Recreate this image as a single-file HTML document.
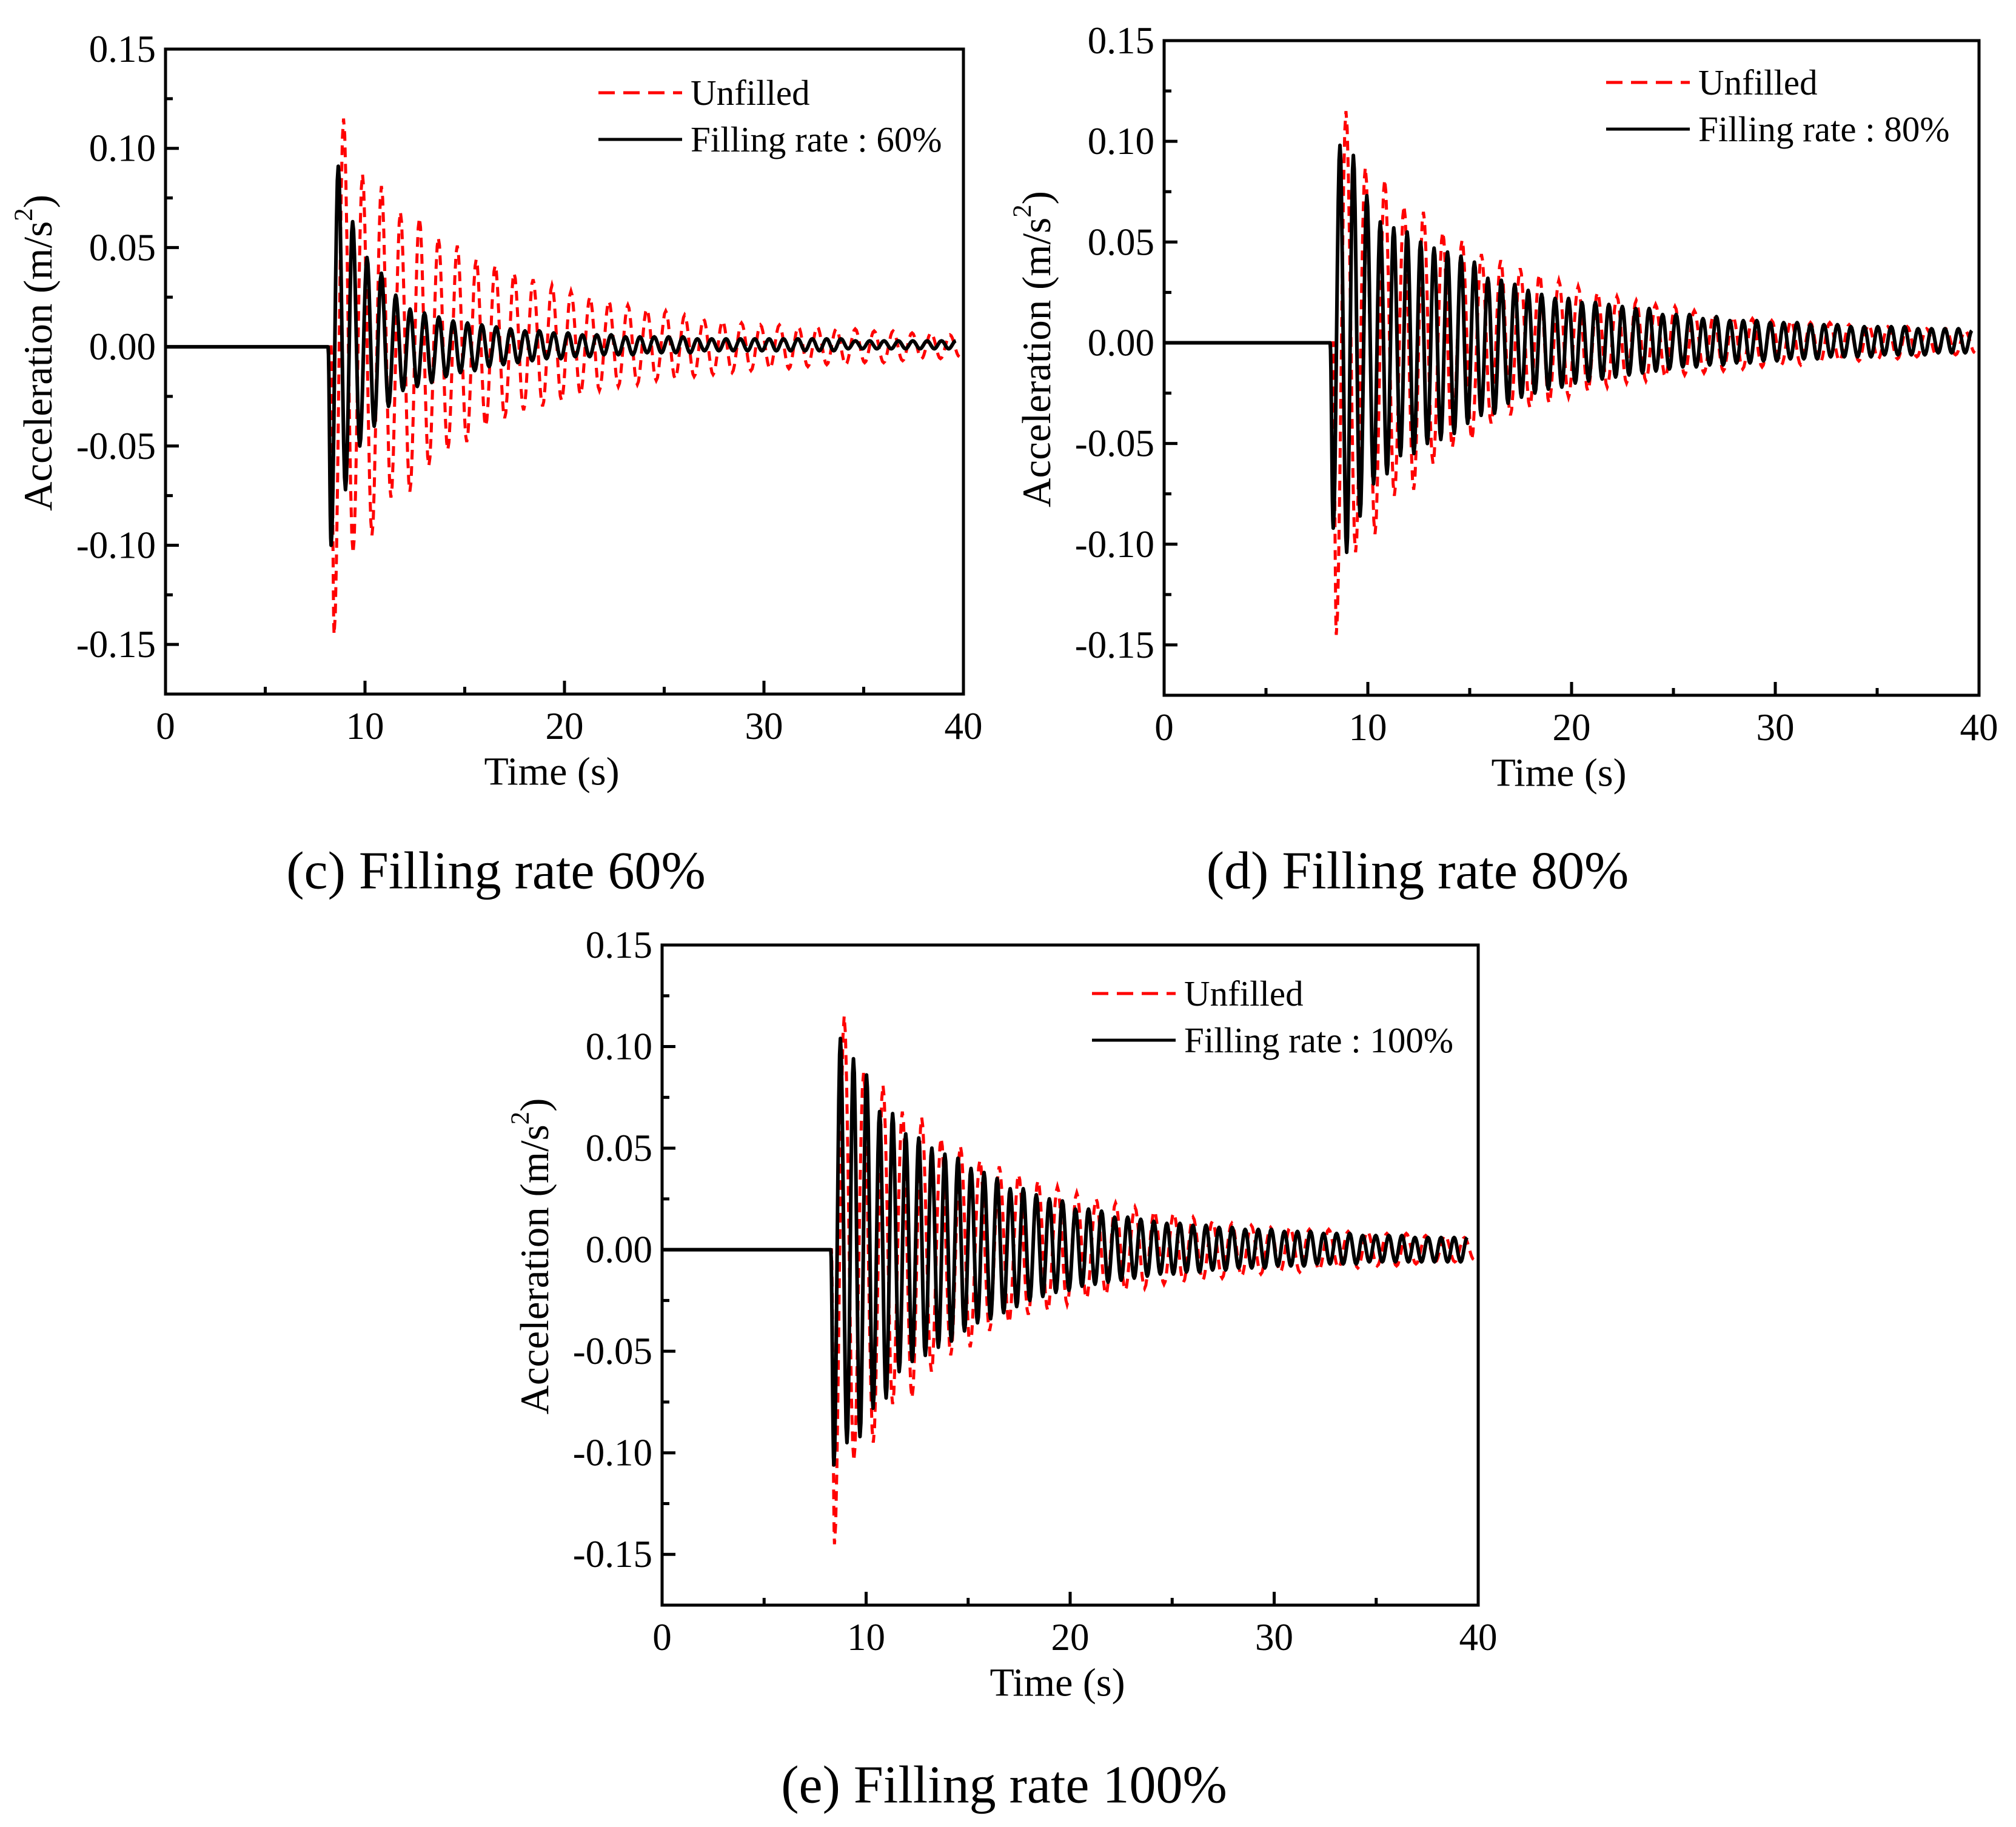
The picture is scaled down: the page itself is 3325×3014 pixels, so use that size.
<!DOCTYPE html>
<html><head><meta charset="utf-8"><style>
html,body{margin:0;padding:0;background:#fff;}
svg{display:block;}
text{font-family:"Liberation Serif",serif;fill:#000;}
</style></head><body>
<svg id="fig" width="3325" height="3014" viewBox="0 0 3325 3014" xmlns="http://www.w3.org/2000/svg"></svg>
<script>
// ---- data ----
const xTicks = [0, 10, 20, 30, 40];
const yTicks = [0.15, 0.10, 0.05, 0.00, -0.05, -0.10, -0.15];
const yTickLabels = ["0.15", "0.10", "0.05", "0.00", "-0.05", "-0.10", "-0.15"];
// Unfilled (same record in every panel): first minimum time, half period, extrema
const unfilledStart = 8.45;
const unfilledHalf = 0.475;
const unfilledMins = [-.145,-.104,-.095,-.076,-.073,-.060,-.052,-.048,-.040,-.036,-.032,-.030,-.027,-.024,-.022,-.020,-.019,-.017,-.016,-.015,-.014,-.013,-.012,-.011,-.011,-.010,-.009,-.009,-.008,-.008,-.007,-.006,-.006,-.005];
const unfilledMaxs = [.115,.087,.081,.068,.065,.055,.051,.044,.041,.037,.034,.031,.028,.025,.023,.021,.019,.018,.016,.014,.013,.012,.011,.011,.010,.010,.009,.009,.008,.008,.007,.007,.006];
// Filling rate 60%
const fill60Start = 8.3;
const fill60Half = 0.36;
const fill60Mins = [-.100,-.072,-.050,-.040,-.030,-.022,-.020,-.018,-.015,-.013,-.012,-.010,-.009,-.008,-.007,-.006,-.006,-.005,-.005,-.004,-.004,-.004,-.003,-.003,-.003,-.003,-.002,-.002,-.002,-.002,-.002,-.002,-.002,-.002,-.002,-.002,-.001,-.001,-.001,-.001,-.001,-.001,-.001,-.001];
const fill60Maxs = [.091,.063,.045,.037,.026,.019,.017,.015,.013,.012,.011,.010,.009,.008,.008,.007,.007,.006,.006,.006,.005,.005,.005,.005,.005,.004,.004,.004,.004,.004,.004,.004,.004,.004,.004,.004,.003,.003,.003,.003,.003,.003,.003,.003];
// Filling rate 80%
const fill80Start = 8.3;
const fill80Half = 0.33;
const fill80Mins = [-.092,-.104,-.086,-.070,-.065,-.056,-.055,-.050,-.048,-.045,-.040,-.036,-.035,-.030,-.027,-.025,-.023,-.022,-.020,-.019,-.018,-.017,-.016,-.015,-.014,-.013,-.012,-.012,-.011,-.011,-.010,-.010,-.009,-.009,-.008,-.008,-.008,-.007,-.007,-.007,-.007,-.006,-.006,-.006,-.006,-.005,-.005,-.005];
const fill80Maxs = [.098,.093,.073,.060,.057,.055,.050,.047,.045,.043,.040,.032,.031,.029,.026,.024,.022,.022,.020,.020,.019,.018,.017,.017,.014,.014,.014,.012,.013,.011,.011,.011,.010,.010,.010,.009,.009,.009,.008,.008,.008,.008,.008,.007,.007,.007,.007,.006];
// Filling rate 100%
const fill100Start = 8.42;
const fill100Half = 0.32;
const fill100Mins = [-.106,-.095,-.092,-.078,-.073,-.060,-.055,-.052,-.048,-.045,-.040,-.036,-.034,-.031,-.028,-.025,-.023,-.021,-.020,-.018,-.017,-.016,-.015,-.014,-.013,-.012,-.012,-.011,-.011,-.010,-.010,-.009,-.009,-.009,-.008,-.008,-.008,-.007,-.007,-.007,-.007,-.006,-.006,-.006,-.006,-.006,-.006,-.006,-.006];
const fill100Maxs = [.104,.094,.086,.068,.067,.057,.055,.050,.047,.045,.040,.038,.035,.030,.030,.027,.025,.024,.020,.020,.019,.016,.016,.015,.014,.013,.013,.012,.012,.011,.011,.010,.010,.010,.009,.009,.009,.008,.008,.008,.007,.007,.007,.007,.006,.006,.006,.006,.006];

const NS = "http://www.w3.org/2000/svg";
const svg = document.getElementById("fig");
function mk(tag, attrs, parent) {
  const e = document.createElementNS(NS, tag);
  for (const k in attrs) e.setAttribute(k, attrs[k]);
  (parent || svg).appendChild(e);
  return e;
}

function buildPath(start, half, mins, maxs, sx, sy) {
  let pts = [[0, 0], [start - 0.15, 0]];
  const ext = [];
  const n = Math.max(mins.length, maxs.length);
  for (let i = 0; i < n; i++) {
    if (i < mins.length) ext.push(mins[i]);
    if (i < maxs.length) ext.push(maxs[i]);
  }
  let prevT = start - 0.15, prevV = 0;
  ext.forEach((v, i) => {
    const t = start + i * half;
    for (let s = 1; s <= 8; s++) {
      const f = s / 8;
      const w = (1 - Math.cos(Math.PI * f)) / 2;
      pts.push([prevT + (t - prevT) * f, prevV + (v - prevV) * w]);
    }
    prevT = t; prevV = v;
  });
  return "M" + pts.map(p => sx(p[0]).toFixed(1) + "," + sy(p[1]).toFixed(1)).join("L");
}

function panel(cfg) {
  const g = mk("g", {});
  
  
  const {L, R, T, B} = cfg;
  const sx = t => L + (t - 0) / 40 * (R - L);
  const sy = v => T + (0.15 - v) / (0.325) * (B - T);
  const clipId = "clip-" + cfg.name;
  const cp = mk("clipPath", {id: clipId}, g);
  mk("rect", {x: L, y: T, width: R - L, height: B - T}, cp);

  const red = mk("path", {d: buildPath(unfilledStart, unfilledHalf, unfilledMins, unfilledMaxs, sx, sy),
    fill: "none", stroke: "#ff0000", "stroke-width": 5, "stroke-dasharray": "16 11", "clip-path": "url(#" + clipId + ")"}, g);
  
  
  const blk = mk("path", {d: buildPath(cfg.start, cfg.half, cfg.mins, cfg.maxs, sx, sy),
    fill: "none", stroke: "#000", "stroke-width": 6, "stroke-linejoin": "round", "clip-path": "url(#" + clipId + ")"}, g);
  
  

  const fr = mk("rect", {x: L, y: T, width: R - L, height: B - T, fill: "none", stroke: "#000", "stroke-width": 5}, g);
  
  

  xTicks.forEach((t, i) => {
    mk("line", {x1: sx(t), x2: sx(t), y1: B, y2: B - 22, stroke: "#000", "stroke-width": 5}, g);
    if (i < xTicks.length - 1) {
      const m = (t + xTicks[i + 1]) / 2;
      mk("line", {x1: sx(m), x2: sx(m), y1: B, y2: B - 12, stroke: "#000", "stroke-width": 5}, g);
    }
    const tx = mk("text", {x: sx(t), y: B + 53, "font-size": 63, "text-anchor": "middle", "dominant-baseline": "central"}, g);
    tx.textContent = t;
    
    
  });
  yTicks.forEach((v, i) => {
    mk("line", {x1: L, x2: L + 22, y1: sy(v), y2: sy(v), stroke: "#000", "stroke-width": 5}, g);
    const m = v - 0.025;
    mk("line", {x1: L, x2: L + 12, y1: sy(m), y2: sy(m), stroke: "#000", "stroke-width": 5}, g);
    const ty = mk("text", {x: L - 16, y: sy(v), "font-size": 63, "text-anchor": "end", "dominant-baseline": "central"}, g);
    ty.textContent = yTickLabels[i];
    
    
  });
  const xt = mk("text", {x: (L + R) / 2 - 21, y: B + 128, "font-size": 66, "text-anchor": "middle", "dominant-baseline": "central"}, g);
  xt.textContent = "Time (s)";
  
  
  const cy = (T + B) / 2 - 31;
  const yt = mk("text", {x: 0, y: 0, "font-size": 67, "text-anchor": "middle", "dominant-baseline": "central",
    transform: "translate(" + (L - 210) + "," + cy + ") rotate(-90)"}, g);
  
  
  yt.appendChild(document.createTextNode("Acceleration (m/s"));
  const sup = mk("tspan", {"font-size": 43, dy: -24}, yt);
  sup.textContent = "2";
  const cl = mk("tspan", {dy: 24}, yt);
  cl.textContent = ")";

  const lg = mk("g", {}, g);
  
  
  const lx = cfg.legX, ly = cfg.legY;
  mk("line", {x1: lx, x2: lx + 138, y1: ly, y2: ly, stroke: "#ff0000", "stroke-width": 5, "stroke-dasharray": "27 14"}, lg);
  const l1 = mk("text", {x: lx + 152, y: ly, "font-size": 59, "dominant-baseline": "central"}, lg);
  l1.textContent = "Unfilled";
  
  
  mk("line", {x1: lx, x2: lx + 138, y1: ly + 77, y2: ly + 77, stroke: "#000", "stroke-width": 5}, lg);
  const l2 = mk("text", {x: lx + 152, y: ly + 77, "font-size": 59, "dominant-baseline": "central"}, lg);
  l2.textContent = cfg.legend;
  
  

  const cap = mk("text", {x: cfg.capX, y: cfg.capY, "font-size": 88, "text-anchor": "middle", "dominant-baseline": "central"}, g);
  cap.textContent = cfg.caption;
  
  
}

panel({name: "panel-c", L: 273, R: 1589, T: 81, B: 1145, start: fill60Start, half: fill60Half, mins: fill60Mins, maxs: fill60Maxs,
  legX: 987, legY: 153, legend: "Filling rate : 60%", caption: "(c) Filling rate 60%", capX: 818, capY: 1437});
panel({name: "panel-d", L: 1920, R: 3264, T: 67, B: 1147, start: fill80Start, half: fill80Half, mins: fill80Mins, maxs: fill80Maxs,
  legX: 2649, legY: 136, legend: "Filling rate : 80%", caption: "(d) Filling rate 80%", capX: 2338, capY: 1437});
panel({name: "panel-e", L: 1092, R: 2438, T: 1559, B: 2648, start: fill100Start, half: fill100Half, mins: fill100Mins, maxs: fill100Maxs,
  legX: 1801, legY: 1639, legend: "Filling rate : 100%", caption: "(e) Filling rate 100%", capX: 1656, capY: 2945});
</script>
</body></html>
